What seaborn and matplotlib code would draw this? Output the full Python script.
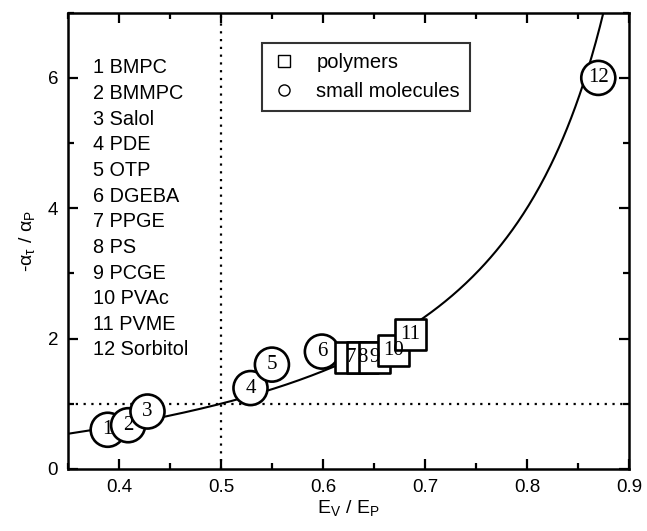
import numpy as np
import pandas as pd
import matplotlib
matplotlib.use("Agg")
import matplotlib.pyplot as plt
from matplotlib.lines import Line2D
import seaborn as sns

# Measured points: E_V/E_P and -alpha_tau/alpha_P for each glass former
labels = ["1", "2", "3", "4", "5", "6", "7", "8", "9", "10", "11", "12"]
names = ["BMPC", "BMMPC", "Salol", "PDE", "OTP", "DGEBA", "PPGE", "PS",
         "PCGE", "PVAc", "PVME", "Sorbitol"]
ev_ep = [0.389, 0.409, 0.428, 0.529, 0.550, 0.599, 0.627, 0.639, 0.651,
         0.669, 0.686, 0.870]
ratio = [0.60, 0.67, 0.88, 1.24, 1.60, 1.80, 1.71, 1.71, 1.71, 1.81, 2.06, 6.00]
kind = ["small molecules"] * 6 + ["polymers"] * 5 + ["small molecules"]

df = pd.DataFrame({"x": ev_ep, "y": ratio, "kind": kind, "label": labels})

# Model curve: -alpha_tau/alpha_P = (E_V/E_P) / (1 - E_V/E_P)
x_model = np.linspace(0.35, 0.885, 400)
curve = pd.DataFrame({"x": x_model, "y": x_model / (1.0 - x_model)})

sns.set_style("ticks")
plt.rcParams["font.family"] = ["Liberation Sans", "DejaVu Sans"]
plt.rcParams["mathtext.fontset"] = "custom"
plt.rcParams["mathtext.rm"] = "Liberation Sans"
plt.rcParams["mathtext.it"] = "Liberation Sans:italic"
for key in ["text.color", "axes.labelcolor", "xtick.color", "ytick.color",
            "axes.edgecolor"]:
    plt.rcParams[key] = "black"

fig = plt.figure(figsize=(6.47, 5.31), dpi=100)
ax = fig.add_axes([0.105, 0.117, 0.867, 0.859])

ax.axvline(0.5, color="black", ls=(0, (1, 2.5)), lw=1.6, zorder=1)
ax.axhline(1.0, color="black", ls=(0, (1, 2.5)), lw=1.6, zorder=1)

sns.lineplot(data=curve, x="x", y="y", color="black", lw=1.5, ax=ax,
             zorder=2, legend=False)

sns.scatterplot(data=df, x="x", y="y", style="kind",
                markers={"small molecules": "o", "polymers": "s"},
                size="kind", sizes={"small molecules": 34**2 * 0.52,
                                    "polymers": 31**2 * 0.52},
                color="white", edgecolor="black", linewidth=1.9,
                ax=ax, zorder=3, legend=False)

for lab, xv, yv in zip(labels, ev_ep, ratio):
    ax.text(xv, yv, lab, ha="center", va="center", fontsize=15,
            family="Liberation Serif", color="black", zorder=5)

# numbered list of substances
for i, (lab, nm) in enumerate(zip(labels, names)):
    ax.text(0.045, 0.879 - i * 0.0562, f"{lab} {nm}", transform=ax.transAxes,
            ha="left", va="center", fontsize=14.3, color="black")

handles = [Line2D([], [], marker="s", ls="none", mfc="white", mec="black",
                  ms=8, mew=1.0, label="polymers"),
           Line2D([], [], marker="o", ls="none", mfc="white", mec="black",
                  ms=8, mew=1.0, label="small molecules")]
leg = ax.legend(handles=handles, loc="upper left",
                bbox_to_anchor=(0.346, 0.934), borderaxespad=0,
                fontsize=14.5, frameon=True, fancybox=False,
                handlelength=1.2, handletextpad=1.0, borderpad=0.5,
                labelspacing=0.5)
leg.get_frame().set_edgecolor("black")
leg.get_frame().set_linewidth(1.5)
for t in leg.get_texts():
    t.set_color("black")

ax.set_xlim(0.35, 0.9)
ax.set_ylim(0, 7)
ax.set_xticks([0.4, 0.5, 0.6, 0.7, 0.8, 0.9])
ax.set_xticks(np.arange(0.35, 0.91, 0.05), minor=True)
ax.set_yticks([0, 2, 4, 6])
ax.set_yticks([1, 3, 5, 7], minor=True)
ax.set_xticklabels(["0.4", "0.5", "0.6", "0.7", "0.8", "0.9"])
ax.tick_params(which="both", direction="in", top=True, right=True,
               width=1.6, labelsize=13.5, pad=7, colors="black")
ax.tick_params(which="major", length=7)
ax.tick_params(which="minor", length=4)
for sp in ax.spines.values():
    sp.set_linewidth(1.8)
    sp.set_color("black")
    sp.set_visible(True)

ax.set_xlabel(r"E$_\mathrm{V}$ / E$_\mathrm{P}$", fontsize=14, labelpad=2)
ax.set_ylabel(r"-α$_\mathrm{\tau}$ / α$_\mathrm{P}$", fontsize=14, labelpad=8)

fig.savefig("out.png", dpi=100)
